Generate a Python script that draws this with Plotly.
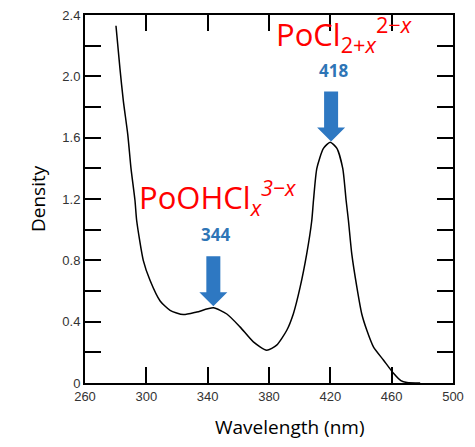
import numpy as np
import plotly.graph_objects as go

# Absorption spectrum
wavelength = [280.2, 282.8, 285.0, 287.9, 290.0, 292.6, 293.7, 298.0, 302.4, 309.0,
              315.5, 324.1, 332.9, 343.7, 352.5, 361.1, 369.8, 378.5, 385.0, 391.6,
              395.9, 400.3, 404.6, 407.9, 409.0, 411.2, 415.5, 419.9, 424.3, 428.1,
              430.3, 431.8, 434.0, 437.3, 440.5, 443.8, 448.1, 454.6, 461.2, 466.0,
              470.0, 478.6]
density = [2.33, 2.05, 1.84, 1.62, 1.40, 1.19, 1.06, 0.80, 0.67, 0.535,
           0.474, 0.446, 0.463, 0.49, 0.45, 0.366, 0.268, 0.214, 0.247, 0.344,
           0.452, 0.625, 0.842, 1.06, 1.19, 1.40, 1.53, 1.57, 1.53, 1.40,
           1.19, 1.06, 0.84, 0.625, 0.45, 0.344, 0.236, 0.15, 0.063, 0.015,
           0.003, 0.0]

# Peak annotations
peak_wavelengths = [343.7, 420.5]
peak_labels = ["344", "418"]
species_labels = ["PoOHCl<sub><i>x</i></sub><sup><i>3\u2212x</i></sup>",
                  "PoCl<sub>2+<i>x</i></sub><sup>2\u2212<i>x</i></sup>"]

x_tick_vals = [260, 300, 340, 380, 420, 460, 500]
x_tick_text = ["260", "300", "340", "380", "420", "460", "500"]
y_tick_vals = [0, 0.4, 0.8, 1.2, 1.6, 2.0, 2.4]
y_tick_text = ["0", "0.4", "0.8", "1.2", "1.6", "2.0", "2.4"]

fig = go.Figure()
fig.add_trace(go.Scatter(x=wavelength, y=density, mode="lines",
                         line=dict(color="black", width=1.5, shape="spline", smoothing=0.6),
                         hoverinfo="skip", showlegend=False))

arrow_color = "#2E78C2"
label_blue = "#2E75B6"
arrow_path = "M 0,0 L -14,14 L -7,14 L -7,50 L 7,50 L 7,14 L 14,14 Z"
peak_heights = np.interp(peak_wavelengths, wavelength, density)
species_shift = [(-76, 92), (-57, 90)]
for pw, ph, lab, sp, (sx, sy) in zip(peak_wavelengths, peak_heights, peak_labels,
                                      species_labels, species_shift):
    fig.add_shape(type="path", xref="x", yref="y", xsizemode="pixel", ysizemode="pixel",
                  xanchor=pw, yanchor=float(ph) + 0.01, path=arrow_path,
                  fillcolor=arrow_color, line=dict(width=0))
    fig.add_annotation(x=pw, y=float(ph), xref="x", yref="y", text="<b>%s</b>" % lab,
                       showarrow=False, xanchor="center", yanchor="middle",
                       yshift=73, xshift=2,
                       font=dict(family="Open Sans", size=17, color=label_blue))
    fig.add_annotation(x=pw, y=float(ph), xref="x", yref="y", text=sp,
                       showarrow=False, xanchor="left", yanchor="bottom",
                       xshift=sx, yshift=sy - 8,
                       font=dict(family="Open Sans", size=31, color="#FF0000"))

fig.add_annotation(x=0, y=0.5, xref="paper", yref="paper", text="Density",
                   textangle=-90, showarrow=False, xanchor="center", yanchor="middle",
                   xshift=-47, yshift=0,
                   font=dict(family="Open Sans", size=19, color="black"))
fig.add_annotation(x=0.5, y=0, xref="paper", yref="paper", text="Wavelength (nm)",
                   showarrow=False, xanchor="center", yanchor="middle",
                   xshift=21, yshift=-44,
                   font=dict(family="Open Sans", size=19, color="black"))

tick_font = dict(family="Liberation Sans", size=13, color="#333333")
fig.update_xaxes(range=[260, 500], tickvals=x_tick_vals, ticktext=x_tick_text,
                 ticks="inside", ticklen=16, tickwidth=1.5, tickcolor="black",
                 showline=True, linecolor="black", linewidth=2, mirror="ticks",
                 showgrid=False, zeroline=False, tickfont=tick_font)
fig.update_yaxes(range=[0, 2.4], tickvals=y_tick_vals, ticktext=y_tick_text,
                 ticks="inside", ticklen=16, tickwidth=1.5, tickcolor="black",
                 minor=dict(dtick=0.2, tick0=0, ticks="inside", ticklen=16,
                            tickwidth=1.5, tickcolor="black", showgrid=False),
                 showline=True, linecolor="black", linewidth=2, mirror="ticks",
                 showgrid=False, zeroline=False, tickfont=tick_font)

fig.update_layout(width=475, height=447, margin=dict(l=85, r=22, t=8, b=64),
                  plot_bgcolor="white", paper_bgcolor="white")
fig.write_html("out.html", config={"displayModeBar": False},
               post_script="document.body.style.margin='0';")
